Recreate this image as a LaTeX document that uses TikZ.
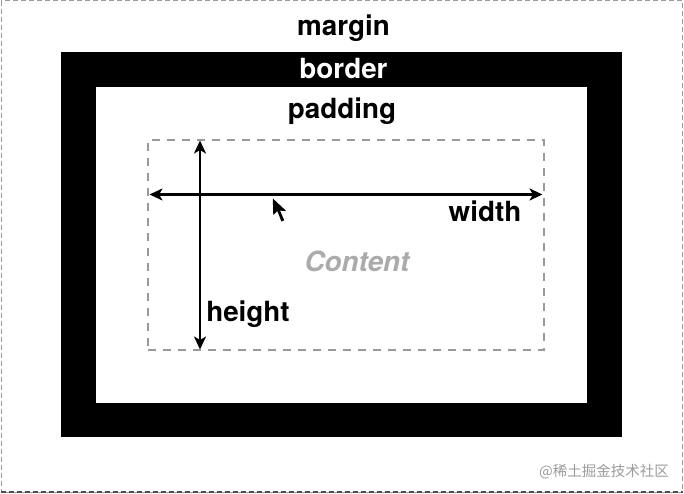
\documentclass[tikz,border=0pt]{standalone}
\usepackage{fontspec}
\setmainfont{TeX Gyre Heros}
\newfontfamily\cjkfont{Noto Sans CJK SC}
\usetikzlibrary{arrows.meta}
\definecolor{dashgray}{HTML}{9A9A9A}
\definecolor{contentgray}{HTML}{ABABAB}
\definecolor{wmgray}{HTML}{9C9C9C}
\tikzset{
  lbl/.style={inner sep=0pt, anchor=base, font=\fontsize{27.8}{32}\selectfont\bfseries},
  dimarrow/.style={line width=2.7pt, {Stealth[length=13pt,width=12pt,inset=3.5pt]}-{Stealth[length=13pt,width=12pt,inset=3.5pt]}},
  contentbox/.style={draw=dashgray, line width=2pt, dash pattern=on 8pt off 7pt, inner sep=0pt},
}
\begin{document}
\begin{tikzpicture}[x=1pt,y=-1pt]
\useasboundingbox (0,0) rectangle (684,494);
\fill[white] (0,0) rectangle (684,494);
% outer margin edge
\draw[dashgray, line width=1pt, dash pattern=on 5pt off 3pt] (1,1) rectangle (682.5,492);
\draw[black!70, line width=1.2pt, dash pattern=on 5pt off 3pt] (1,492) -- (682.5,492);
% border
\fill[black] (60.5,52.5) rectangle (622,437);
\fill[white] (96,87) rectangle (587,403);
% content box
\node[contentbox, minimum width=396pt, minimum height=210pt] (cbox) at (346,245) {};
% labels
\node[lbl] (margin) at (343.5,36) {margin};
\node[lbl, text=white] (border) at (343.5,79) {border};
\node[lbl] (padding) at (342,118.5) {padding};
\node[lbl] (width) at (485,221.5) {width};
\node[lbl] (height) at (248,321.5) {height};
\node[lbl, text=contentgray, font=\fontsize{27.8}{32}\selectfont\bfseries\itshape] (content) at (357,271.5) {Content};
% dimension arrows
\coordinate (vtop) at (200,140.5);
\coordinate (vbot) at (200,349.5);
\coordinate (hleft) at (149.5,194.5);
\coordinate (hright) at (542.5,194.5);
\draw[dimarrow] (hleft) -- (hright);
\draw[dimarrow] (vtop) -- (vbot);
% mouse pointer
\fill[black, shift={(272.8,198.5)}] (0,0) -- (0.5,16.5) -- (4.6,12.6) -- (8.6,23) -- (11.4,21.8) -- (7.3,12.2) -- (13.3,12.4) -- cycle;
% watermark text
\node[inner sep=0pt, anchor=base, text=wmgray, font=\cjkfont\fontsize{14.5}{16}\selectfont] (wm) at (604,476.5) {@稀土掘金技术社区};
\end{tikzpicture}
\end{document}
